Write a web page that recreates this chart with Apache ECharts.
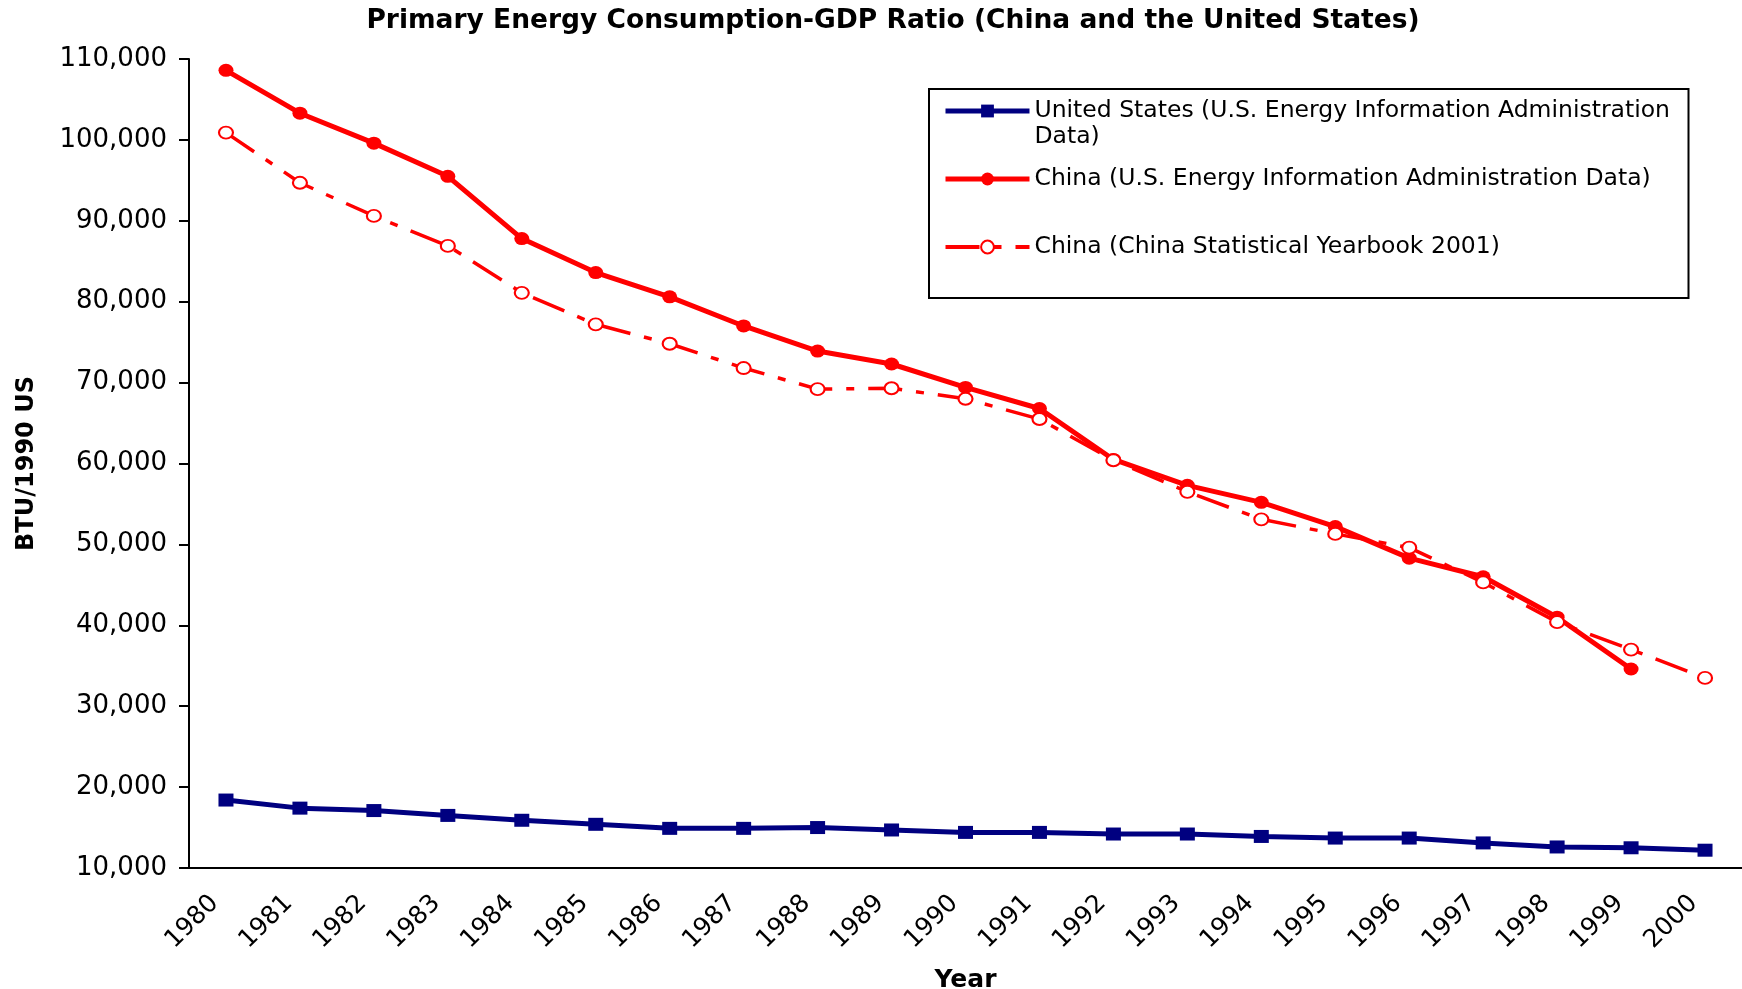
<!DOCTYPE html>
<html>
<head>
<meta charset="utf-8">
<title>Primary Energy Consumption-GDP Ratio</title>
<script src="https://cdn.jsdelivr.net/npm/echarts@6/dist/echarts.min.js"></script>
<style>
  html, body { margin: 0; padding: 0; background: #fff; }
  #chart { width: 1742px; height: 989px; }
</style>
</head>
<body>
<div id="chart"></div>
<script>
// 横轴年份
const years = ['1980', '1981', '1982', '1983', '1984', '1985', '1986', '1987', '1988', '1989', '1990',
  '1991', '1992', '1993', '1994', '1995', '1996', '1997', '1998', '1999', '2000'];

// 纵轴刻度 (BTU/1990 US$)
const yMin = 10000;
const yMax = 110000;
const yStep = 10000;

// 三条折线的名字
const seriesNames = [
  'United States (U.S. Energy Information Administration Data)',
  'China (U.S. Energy Information Administration Data)',
  'China (China Statistical Yearbook 2001)'
];

// 美国 (EIA)
const usData = [18400, 17400, 17100, 16500, 15900, 15400, 14900, 14900, 15000, 14700, 14400,
  14400, 14200, 14200, 13900, 13700, 13700, 13100, 12600, 12500, 12200];
// 中国 (EIA)，2000年没有数据
const chinaEiaData = [108600, 103300, 99600, 95500, 87800, 83600, 80600, 77000, 73900, 72300, 69400,
  66800, 60500, 57300, 55200, 52200, 48300, 46000, 41000, 34600, null];
// 中国 (统计年鉴 2001)
const chinaYearbookData = [100900, 94700, 90600, 86900, 81100, 77200, 74800, 71800, 69200, 69300, 68000,
  65500, 60400, 56500, 53100, 51300, 49600, 45300, 40400, 37000, 33500];

const FONT = 'DejaVu Sans';
const NAVY = '#000080';
const RED = '#ff0000';
const DASH = [34, 14, 8, 14]; // 长划线-点

const chartInstance = echarts.init(document.getElementById('chart'));

const option = {
  animation: false,
  backgroundColor: '#fff',
  title: {
    text: 'Primary Energy Consumption-GDP Ratio (China and the United States)',
    left: 893,
    top: 8,
    padding: 0,
    textAlign: 'center',
    textStyle: { fontFamily: FONT, fontWeight: 'bold', fontSize: 26.5, color: '#000' }
  },
  grid: {
    left: 189,
    right: 0,
    top: 59,
    bottom: 121,
    outerBoundsMode: 'none'
  },
  legend: {
    orient: 'vertical',
    left: 929,
    top: 89,
    padding: [-17, 14, 12, 14], // 第一项上面有一行空行，所以顶部是负的
    itemGap: -10,
    itemWidth: 84,
    itemHeight: 16,
    borderColor: '#000',
    borderWidth: 2,
    backgroundColor: '#fff',
    selectedMode: false,
    textStyle: { fontFamily: FONT, fontSize: 23.5, color: '#000', lineHeight: 26, width: 640 },
    formatter: function (name) {
      // 每一项都是三行，让图标和第一行文字对齐
      if (name === seriesNames[0]) {
        return '\nUnited States (U.S. Energy Information Administration\nData)';
      }
      return '\n' + name + '\n';
    },
    data: [
      { name: seriesNames[0], lineStyle: { width: 5 } },
      { name: seriesNames[1], lineStyle: { width: 5 } },
      { name: seriesNames[2], lineStyle: { width: 4, type: DASH } }
    ]
  },
  xAxis: {
    type: 'category',
    data: years,
    boundaryGap: true,
    name: 'Year',
    nameLocation: 'middle',
    nameGap: 100,
    nameTextStyle: { fontFamily: FONT, fontWeight: 'bold', fontSize: 25, color: '#000' },
    axisLine: { lineStyle: { color: '#000', width: 2 } },
    axisTick: { length: 9, lineStyle: { color: '#000', width: 2 } },
    axisLabel: {
      interval: 0,
      rotate: 45,
      margin: 20,
      padding: [0, 16, 0, 0],
      fontFamily: FONT,
      fontSize: 25,
      color: '#000'
    },
    splitLine: { show: false }
  },
  yAxis: {
    type: 'value',
    min: yMin,
    max: yMax,
    interval: yStep,
    name: 'BTU/1990 US$',
    nameLocation: 'middle',
    nameGap: 150,
    nameTruncate: { maxWidth: 186, ellipsis: '' },
    nameTextStyle: { fontFamily: FONT, fontWeight: 'bold', fontSize: 24, color: '#000' },
    axisLine: { show: true, lineStyle: { color: '#000', width: 2 } },
    axisTick: { show: true, length: 10, lineStyle: { color: '#000', width: 2 } },
    axisLabel: {
      margin: 22,
      fontFamily: FONT,
      fontSize: 26,
      color: '#000',
      formatter: function (v) {
        return v.toLocaleString('en-US');
      }
    },
    splitLine: { show: false }
  },
  series: [
    {
      name: seriesNames[0],
      type: 'line',
      data: usData,
      symbol: 'rect',
      symbolSize: [15, 13],
      itemStyle: { color: NAVY },
      lineStyle: { color: NAVY, width: 5 }
    },
    {
      name: seriesNames[1],
      type: 'line',
      data: chinaEiaData,
      symbol: 'circle',
      symbolSize: [15, 13],
      itemStyle: { color: RED },
      lineStyle: { color: RED, width: 5 }
    },
    {
      name: seriesNames[2],
      type: 'line',
      data: chinaYearbookData,
      symbol: 'emptyCircle',
      symbolSize: [14, 12],
      itemStyle: { color: RED, borderWidth: 2 },
      lineStyle: { color: RED, width: 3.5, type: DASH }
    }
  ]
};

chartInstance.setOption(option);
</script>
</body>
</html>
